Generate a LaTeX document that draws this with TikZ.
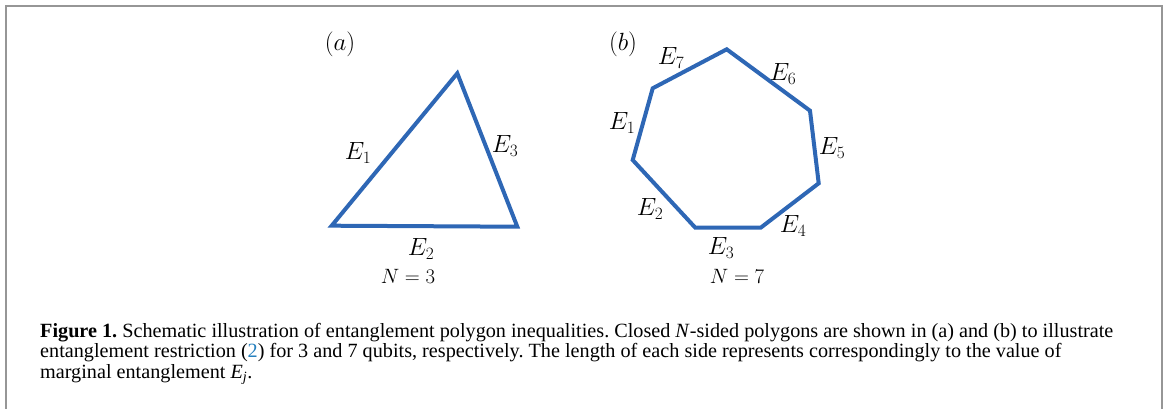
\documentclass[tikz,border=0pt]{standalone}
\usepackage{amsmath}
\usepackage{xcolor}
\usepackage{fontspec}
\setmainfont{Liberation Serif}
\usepackage{tikz}
\definecolor{polyblue}{RGB}{46,103,181}
\definecolor{linkblue}{RGB}{38,128,190}
\definecolor{framegray}{RGB}{150,150,150}
\tikzset{
  poly/.style={polyblue, line width=4pt, line join=miter},
  lab/.style={inner sep=0pt, font=\fontsize{23}{23}\selectfont},
  nlab/.style={inner sep=0pt, font=\fontsize{21}{21}\selectfont},
  capline/.style={anchor=base west, inner sep=0pt, font=\fontsize{20.2}{22}\selectfont\frenchspacing}
}

\begin{document}
\begin{tikzpicture}[x=1pt, y=-1pt]
  \useasboundingbox (0,0) rectangle (1165,409);
  % Frame, open at the bottom
  \draw[framegray, line width=2pt] (6,409) -- (6,6) -- (1162,6) -- (1162,409);
  % (a) triangle
  \coordinate (A1) at (331.7,225.7);
  \coordinate (A2) at (457.3,73.3);
  \coordinate (A3) at (517.3,226.7);
  \draw[poly] (A1) -- (A2) -- (A3) -- cycle;
  \node[lab] (pa) at (340,44) {$(a)$};
  \node[lab] (aE1) at (358,153) {$E_{1}$};
  \node[lab] (aE3) at (505,146) {$E_{3}$};
  \node[lab] (aE2) at (421,249) {$E_{2}$};
  \node[nlab] (aN) at (408,276) {$N=3$};
  % (b) heptagon
  \coordinate (B1) at (726.7,49.3);
  \coordinate (B2) at (810,110.7);
  \coordinate (B3) at (818.7,183.3);
  \coordinate (B4) at (760.7,227.7);
  \coordinate (B5) at (695.3,227.7);
  \coordinate (B6) at (632.7,160);
  \coordinate (B7) at (652.7,88.3);
  \draw[poly] (B1) -- (B2) -- (B3) -- (B4) -- (B5) -- (B6) -- (B7) -- cycle;
  \node[lab] (pb) at (623,44) {$(b)$};
  \node[lab] (bE7) at (671,58) {$E_{7}$};
  \node[lab] (bE6) at (783,74) {$E_{6}$};
  \node[lab] (bE1) at (622,123) {$E_{1}$};
  \node[lab] (bE5) at (832,148) {$E_{5}$};
  \node[lab] (bE2) at (650,209) {$E_{2}$};
  \node[lab] (bE4) at (793,226) {$E_{4}$};
  \node[lab] (bE3) at (721,248) {$E_{3}$};
  \node[nlab] (bN) at (737,276) {$N=7$};
  % Caption
  \node[capline] (cap1) at (40,337) {\textbf{Figure 1.} Schematic illustration of entanglement polygon inequalities. Closed \textit{N}-sided polygons are shown in (a) and (b) to illustrate};
  \node[capline] (cap2) at (40,357.5) {entanglement restriction (\textcolor{linkblue}{2}) for 3 and 7 qubits, respectively. The length of each side represents correspondingly to the value of};
  \node[capline] (cap3) at (40,378) {marginal entanglement \textit{E\textsubscript{j}}.};
\end{tikzpicture}
\end{document}
